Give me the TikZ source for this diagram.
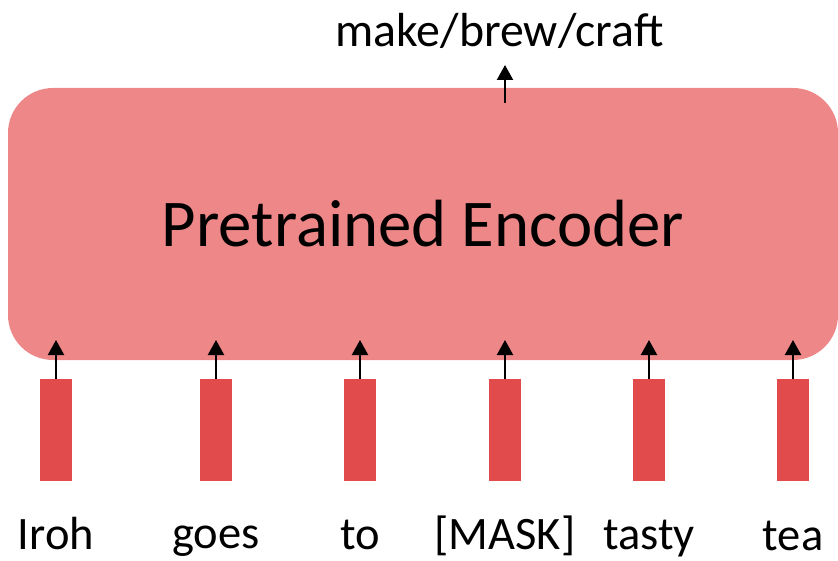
\documentclass[tikz,border=0pt]{standalone}
\usepackage{fontspec}
\setmainfont{Carlito}
\usetikzlibrary{arrows.meta}
\definecolor{encfill}{RGB}{238,135,135}
\definecolor{barfill}{RGB}{226,75,75}
\tikzset{
  encbox/.style={fill=encfill, draw=none, rounded corners=45pt, minimum width=830pt, minimum height=272pt, inner sep=0pt, font=\fontsize{66.8pt}{70pt}\selectfont},
  tokbar/.style={fill=barfill, draw=none, minimum width=32pt, minimum height=102pt, inner sep=0pt, anchor=north},
  toklabel/.style={anchor=base, inner sep=0pt, font=\fontsize{46.5pt}{50pt}\selectfont},
  outlabel/.style={anchor=base, inner sep=0pt, font=\fontsize{47.8pt}{50pt}\selectfont},
  uparrow/.style={draw=black, line width=2.2pt, -{Triangle[width=16pt,length=15pt]}}
}
\begin{document}
\begin{tikzpicture}[x=1pt,y=-1pt]
\useasboundingbox (0,0) rectangle (838,561);
\node[encbox] (enc) at (423,224) {Pretrained Encoder};
\node[outlabel] (out) at (499.5,47) {make/brew/craft};
\coordinate (topstart) at (505,103);
\coordinate (toptip) at (505,65);
\draw[uparrow] (topstart) -- (toptip);
\foreach \name/\x/\lab/\by in {b1/56/Iroh/549, b2/216/goes/548, b3/360/to/549, b4/505/{[MASK]}/549, b5/649/tasty/549, b6/793/tea/550} {
  \node[tokbar] (\name) at (\x,379) {};
  \node[toklabel] (\name lab) at (\x,\by) {\lab};
  \coordinate (\name tip) at (\x,340);
  \draw[uparrow] (\name.north) -- (\name tip);
}
\end{tikzpicture}
\end{document}
